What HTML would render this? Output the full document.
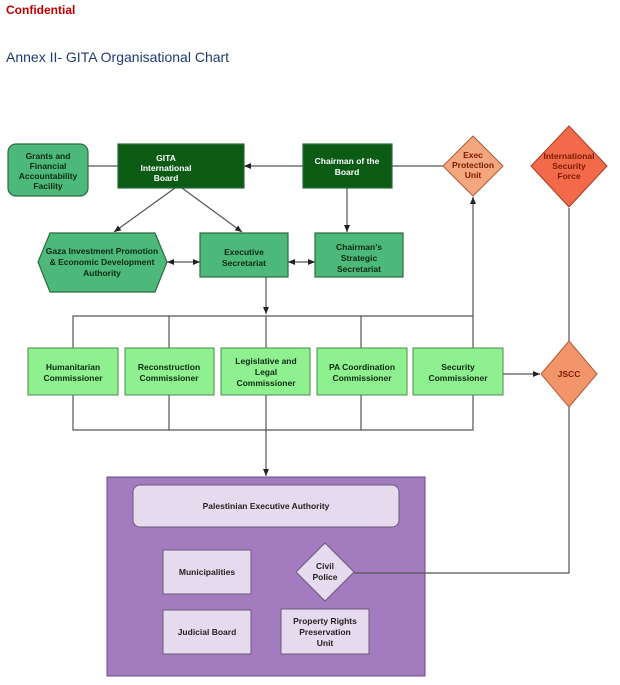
<!DOCTYPE html>
<html><head><meta charset="utf-8"><style>
body{margin:0;background:#fff;width:620px;height:680px;overflow:hidden;font-family:"Liberation Sans",sans-serif}
svg text{font-family:"Liberation Sans",sans-serif;font-weight:bold;font-size:8.5px;text-anchor:middle}
</style></head><body>
<svg width="620" height="680" xmlns="http://www.w3.org/2000/svg">
<defs><marker id="a" markerWidth="8" markerHeight="8" refX="7" refY="4" orient="auto-start-reverse" markerUnits="userSpaceOnUse"><path d="M0,1 L7,4 L0,7z" fill="#222"/></marker></defs>
<text x="6" y="14" style="fill:#c00000;font-size:12px;text-anchor:start">Confidential</text>
<text x="6" y="62" style="fill:#1f3b73;font-size:14px;font-weight:normal;text-anchor:start">Annex II- GITA Organisational Chart</text>
<g stroke="#555" stroke-width="1.2" fill="none">
<line x1="88" y1="166" x2="118" y2="166"/>
<line x1="303" y1="166" x2="244" y2="166" marker-end="url(#a)"/>
<line x1="392" y1="166" x2="443" y2="166"/>
<line x1="175" y1="188" x2="114" y2="232" marker-end="url(#a)"/>
<line x1="182" y1="188" x2="242" y2="232" marker-end="url(#a)"/>
<line x1="347" y1="188" x2="347" y2="232" marker-end="url(#a)"/>
<line x1="167" y1="262" x2="200" y2="262" marker-start="url(#a)" marker-end="url(#a)"/>
<line x1="288" y1="262" x2="315" y2="262" marker-start="url(#a)" marker-end="url(#a)"/>
<line x1="266" y1="277" x2="266" y2="314" marker-end="url(#a)"/>
<polyline points="73,348 73,316 473,316 473,197" marker-end="url(#a)"/>
<line x1="169" y1="316" x2="169" y2="348"/><line x1="266" y1="316" x2="266" y2="348"/><line x1="361" y1="316" x2="361" y2="348"/><line x1="473" y1="316" x2="473" y2="348"/>
<polyline points="73,395 73,430 473,430 473,395"/>
<line x1="169" y1="395" x2="169" y2="430"/><line x1="266" y1="395" x2="266" y2="476" marker-end="url(#a)"/><line x1="361" y1="395" x2="361" y2="430"/>
<line x1="503" y1="374" x2="540" y2="374" marker-end="url(#a)"/>
<line x1="569" y1="208" x2="569" y2="341"/>
</g>
<g stroke="#2d6b3d" stroke-width="1.2">
<rect x="8" y="144" width="80" height="52" rx="8" fill="#4cb87a"/>
<rect x="118" y="144" width="126" height="44" fill="#0b5b14"/>
<rect x="303" y="144" width="89" height="44" fill="#0b5b14"/>
<polygon points="50,233 155,233 167,262 155,292 50,292 38,262" fill="#4cb87a"/>
<rect x="200" y="233" width="88" height="44" fill="#4cb87a"/>
<rect x="315" y="233" width="88" height="44" fill="#4cb87a"/>
</g>
<polygon points="473,136 503,166 473,196 443,166" fill="#f4a67e" stroke="#b05a33"/>
<polygon points="569,126 607,166 569,207 531,166" fill="#f26a4a" stroke="#a83a20"/>
<polygon points="569,341 597,374 569,407 541,374" fill="#f2956b" stroke="#b05a33"/>
<g fill="#8ff08f" stroke="#4a8a4a">
<rect x="28" y="348" width="90" height="47"/><rect x="125" y="348" width="89" height="47"/><rect x="221" y="348" width="89" height="47"/><rect x="317" y="348" width="90" height="47"/><rect x="413" y="348" width="90" height="47"/>
</g>
<rect x="107" y="477" width="318" height="199" fill="#a37cbf" stroke="#6b4a85"/>
<polyline points="569,407 569,573 354,573" fill="none" stroke="#555" stroke-width="1.2"/>
<g fill="#e6dbee" stroke="#6b5a78">
<rect x="133" y="485" width="266" height="42" rx="7"/>
<rect x="163" y="550" width="88" height="44"/><rect x="163" y="610" width="88" height="44"/><rect x="281" y="609" width="88" height="45"/>
<polygon points="325,543 354,572 325,601 296,572"/>
</g>
<g fill="#fff">
<text x="166" y="161">GITA</text><text x="166" y="171">International</text><text x="166" y="181">Board</text>
<text x="347" y="164">Chairman of the</text><text x="347" y="175">Board</text>
</g>
<g fill="#0d2a12">
<text x="48" y="159">Grants and</text><text x="48" y="169">Financial</text><text x="48" y="179">Accountability</text><text x="48" y="189">Facility</text>
<text x="102" y="254">Gaza Investment Promotion</text><text x="102" y="265">&amp; Economic Development</text><text x="102" y="276">Authority</text>
<text x="244" y="255">Executive</text><text x="244" y="266">Secretariat</text>
<text x="359" y="250">Chairman's</text><text x="359" y="261">Strategic</text><text x="359" y="272">Secretariat</text>
<text x="73" y="370">Humanitarian</text><text x="73" y="381">Commissioner</text>
<text x="169" y="370">Reconstruction</text><text x="169" y="381">Commissioner</text>
<text x="266" y="364">Legislative and</text><text x="266" y="375">Legal</text><text x="266" y="386">Commissioner</text>
<text x="362" y="370">PA Coordination</text><text x="362" y="381">Commissioner</text>
<text x="458" y="370">Security</text><text x="458" y="381">Commissioner</text>
</g>
<g fill="#7a1a00"><text x="473" y="158">Exec</text><text x="473" y="168">Protection</text><text x="473" y="178">Unit</text>
<text x="569" y="159">International</text><text x="569" y="169">Security</text><text x="569" y="179">Force</text>
<text x="569" y="377">JSCC</text></g>
<g fill="#222">
<text x="266" y="509">Palestinian Executive Authority</text>
<text x="207" y="575">Municipalities</text><text x="207" y="635">Judicial Board</text>
<text x="325" y="569">Civil</text><text x="325" y="580">Police</text>
<text x="325" y="624">Property Rights</text><text x="325" y="635">Preservation</text><text x="325" y="646">Unit</text>
</g>
</svg>
</body></html>
